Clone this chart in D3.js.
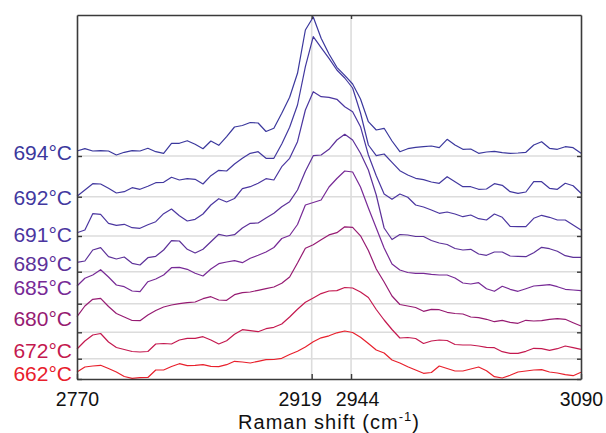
<!DOCTYPE html>
<html>
<head>
<meta charset="utf-8">
<script src="https://cdn.jsdelivr.net/npm/d3@7"></script>
<style>
  body { margin: 0; background: #fff; }
  svg text { font-family: "Liberation Sans", Arial, Helvetica, sans-serif; }
</style>
</head>
<body>
<svg id="chart" width="606" height="433"></svg>
<script>
// Raman shift sampling, cm^-1 (5 cm^-1 steps)
const shifts = d3.range(2770, 3091, 5);

// Spectra recorded at increasing temperature, bottom to top
const temperatures = [662, 672, 680, 685, 689, 691, 692, 694];

// Vertical offset applied to each spectrum in the stack (a.u.)
const offsets = [0, 20.3, 46.7, 75.3, 107.3, 143, 182.3, 223];

// Intensities (a.u.) above each spectrum's own offset
const i662 = [7, 12, 13, 13.7, 10.5, 7, 2.5, 0.7, 1.3, 1.5, 9, 9, 12.5, 15.3, 13.3, 13.7, 14.3, 12.7, 12.3, 14.3, 17.7, 17, 16, 17.7, 19.3, 19.5, 20.7, 24.5, 27.7, 32, 37.2, 41.2, 43.2, 46.2, 48, 46.5, 41.7, 35.5, 29, 26, 19, 16, 12.3, 9, 5.7, 6.5, 13, 10.5, 8, 8, 10, 12, 8.3, 2.3, 1, 3.7, 7, 8, 9, 9.3, 7, 6, 4.3, 3.3, 6.7];
const i672 = [9.7, 17.7, 23.7, 25.2, 16.7, 11.2, 9.2, 7.2, 6.7, 7.2, 14.7, 15.2, 14.7, 18.7, 20.4, 20.4, 22, 18.7, 14.7, 18, 24.4, 29, 28, 27, 30, 31.4, 34.7, 41.7, 49.5, 56.4, 60.7, 65.1, 67.7, 68.1, 71.2, 70.7, 66.7, 61.2, 49.2, 38.7, 29.2, 20.7, 21.2, 20.2, 15.2, 17.7, 18.7, 18.2, 14.2, 13.7, 13.7, 12.7, 11.4, 11, 7, 5.4, 5.4, 7.4, 10.4, 10, 8.4, 10, 12.7, 11, 9.4];
const i680 = [15.6, 26.3, 33, 34, 25.8, 18.8, 15.3, 11.8, 11.6, 17.3, 21.8, 25.3, 27.3, 28.6, 29.6, 30.3, 33.6, 35.6, 32.3, 32, 37.6, 39.6, 40.3, 42, 43.6, 45.3, 49, 55.3, 69.3, 84.1, 87.6, 92.5, 97.4, 99.6, 105.5, 105, 96.5, 81.8, 63.3, 50.3, 36.3, 27.8, 26.3, 24.8, 21, 23, 22.6, 20, 18.8, 18.3, 15.3, 14.6, 13, 10.6, 12, 10, 9, 12, 11.3, 11.6, 13, 13.6, 13, 9.6, 6.3];
const i685 = [17.7, 25.4, 28.7, 34, 26.7, 18.7, 17, 12.7, 12, 22, 24.7, 28.7, 36, 36.4, 34.4, 30.4, 27.7, 34.7, 40, 41.7, 43, 41, 45.4, 48.4, 51.7, 56.2, 65.2, 68.2, 79.2, 98.7, 101.2, 103.7, 116.7, 125.2, 132.7, 131.7, 116.7, 95.7, 75.7, 55.7, 39.7, 33.7, 31.2, 30.4, 30.4, 29.4, 28.7, 28.7, 25.7, 20.7, 19.7, 21, 15, 12.4, 17.4, 14.4, 12.4, 15, 17.7, 18.4, 19, 17, 14.4, 13.7, 13];
const i689 = [9.4, 10.7, 21.7, 24, 15, 12.7, 14.7, 8.4, 6.7, 14, 15.4, 21.7, 31, 30.7, 22.4, 18.7, 22.4, 30, 37.4, 35.7, 37, 43.7, 48.4, 48.7, 53.7, 58.4, 65, 70, 81.7, 100.4, 116, 116.7, 122.4, 131.7, 137.4, 131.7, 118.4, 101.7, 76.7, 43.7, 32.2, 37.2, 36.7, 35.2, 35.2, 31.2, 28.7, 27.2, 23.2, 21.7, 22.4, 17.7, 16.4, 19.7, 19.7, 15.7, 15.4, 15, 19, 24.4, 23, 20.4, 16, 14.4, 14.4];
const i691 = [3.3, 6, 22.3, 21.7, 12.7, 10.7, 11.7, 8.3, 7.7, 11.3, 14.3, 22.3, 27, 20.3, 15, 16.7, 22, 31, 37.3, 34, 37.5, 47.3, 49.3, 52.7, 57.3, 56, 69.3, 77.7, 94.3, 126, 144.3, 139.3, 138.7, 136.7, 129.3, 124.3, 109.3, 81, 60.3, 42, 36.7, 42, 38.7, 31, 29, 26, 22.7, 24, 22, 19.3, 21, 17.3, 16, 22, 18.7, 9.7, 9.3, 9.3, 17.7, 20.7, 18.7, 16, 16, 11, 6];
const i692 = [0.4, 6.7, 13, 12.7, 8.4, 3.7, 5, 9, 7.4, 10.4, 14, 14.4, 19.4, 16.7, 18, 17.4, 12.7, 21, 26.4, 25.7, 32.7, 38.4, 43.4, 45, 38.4, 38.4, 52.7, 69.4, 91.7, 130, 160, 149, 138.4, 126.7, 118.7, 108.7, 83.7, 51.7, 41, 42.7, 34.4, 26, 21.7, 18.4, 17, 14.7, 13.4, 20, 15, 10, 10, 7.4, 7.7, 13, 11.4, 5, 3.4, 4.7, 15, 15, 8.4, 7.4, 13.4, 11, 3.4];
const i694 = [5, 7.3, 5, 5.3, 5, 1, 3.7, 5.3, 5, 7.7, 4.3, 2.7, 12.7, 12.7, 15.3, 11.7, 7.3, 15, 10.7, 19.3, 29, 30.5, 33.5, 33, 24.5, 27.7, 42.7, 58.7, 82.7, 126, 139, 117.7, 102, 88.7, 80.7, 72, 57, 34.3, 26, 27.7, 15, 4.3, 7.3, 8.7, 9.3, 10, 8.3, 16.7, 11, 6.7, 7, 2.7, 4, 4.7, 3.3, 2.7, 3, 3.7, 11, 14.3, 7.7, 6.7, 9.3, 8.3, 2.7];

const intensities = [i662, i672, i680, i685, i689, i691, i692, i694];

// Band positions marked on the axis, and the x tick labels
const markedShifts = [2919, 2944];
const xTickValues = [2770, 2919, 2944, 3090];

// Upper end of the stacked intensity axis (a.u.)
const intensityMax = 364;

// Red (coolest) to blue (hottest)
const seriesColors = ["#e8202c", "#c4194f", "#961b72", "#772a96", "#5d3199", "#4b36a0", "#42389f", "#3b389d"];

const W = 606, H = 433;
const margin = { top: 15, right: 25, bottom: 54, left: 77 };

const svg = d3.select("#chart");

const x = d3.scaleLinear()
  .domain([shifts[0], shifts[shifts.length - 1]])
  .range([margin.left, W - margin.right]);

const y = d3.scaleLinear()
  .domain([0, intensityMax])
  .range([H - margin.bottom, margin.top]);

// Grid: one horizontal line per spectrum offset, vertical lines at the marked bands
const grid = svg.append("g").attr("stroke", "#dcdcdc").attr("stroke-width", 1.6);
grid.selectAll("line.h").data(offsets.slice(1)).join("line")
  .attr("class", "h")
  .attr("x1", x.range()[0]).attr("x2", x.range()[1])
  .attr("y1", d => y(d)).attr("y2", d => y(d));
grid.selectAll("line.v").data(markedShifts).join("line")
  .attr("class", "v")
  .attr("x1", d => x(d)).attr("x2", d => x(d))
  .attr("y1", y.range()[0]).attr("y2", y.range()[1]);

// Stacked spectra
const series = temperatures.map((t, i) => ({
  t,
  color: seriesColors[i],
  points: intensities[i].map((v, j) => ({ s: shifts[j], v: offsets[i] + v }))
}));

const line = d3.line().x(d => x(d.s)).y(d => y(d.v));

svg.append("g").attr("fill", "none")
  .selectAll("path").data(series).join("path")
  .attr("d", d => line(d.points))
  .attr("stroke", d => d.color)
  .attr("stroke-width", 1.2)
  .attr("stroke-linejoin", "round");

// Axes (boxed, ticks pointing inward)
function styleAxis(g) {
  g.select(".domain").attr("stroke", "#3a3a3a").attr("stroke-width", 1.6);
  g.selectAll(".tick line").attr("stroke", "#3a3a3a").attr("stroke-width", 1.4);
  g.selectAll(".tick text").attr("font-family", "Liberation Sans, Arial, sans-serif")
    .attr("font-size", 19.5).attr("fill", "#111");
}

// The two close band labels are nudged apart so they do not collide
const labelNudge = { 2919: -12, 2944: 6 };

svg.append("g")
  .attr("transform", `translate(0,${y.range()[0]})`)
  .call(d3.axisBottom(x).tickValues(xTickValues).tickFormat(d3.format("d"))
    .tickSize(-5).tickSizeOuter(0).tickPadding(13.5))
  .call(styleAxis)
  .call(g => g.selectAll(".tick text").attr("dx", d => labelNudge[d] || 0));

svg.append("g")
  .attr("transform", `translate(0,${y.range()[1]})`)
  .call(d3.axisTop(x).tickValues(markedShifts).tickFormat("")
    .tickSize(-4).tickSizeOuter(0))
  .call(styleAxis);

svg.append("g")
  .attr("transform", `translate(${x.range()[0]},0)`)
  .call(d3.axisLeft(y).tickValues(offsets).tickFormat("")
    .tickSize(-5).tickSizeOuter(0))
  .call(styleAxis);

svg.append("g")
  .attr("transform", `translate(${x.range()[1]},0)`)
  .call(d3.axisRight(y).tickValues(offsets).tickFormat("")
    .tickSize(-4).tickSizeOuter(0))
  .call(styleAxis);

// Temperature labels, level with the start of each spectrum
svg.append("g")
  .selectAll("text").data(series).join("text")
  .attr("x", x.range()[0] - 5)
  .attr("y", d => y(d.points[0].v) + 1.5)
  .attr("text-anchor", "end")
  .attr("dominant-baseline", "central")
  .attr("font-size", 21)
  .attr("fill", d => d.color)
  .text(d => `${d.t}°C`);

// X axis title
const title = svg.append("text")
  .attr("x", (x.range()[0] + x.range()[1]) / 2)
  .attr("y", 428.6)
  .attr("text-anchor", "middle")
  .attr("font-size", 20)
  .attr("letter-spacing", 1)
  .attr("fill", "#111");
title.append("tspan").text("Raman shift (cm");
title.append("tspan").attr("dy", -8).attr("font-size", 13).text("-1");
title.append("tspan").attr("dy", 8).text(")");
</script>
</body>
</html>
